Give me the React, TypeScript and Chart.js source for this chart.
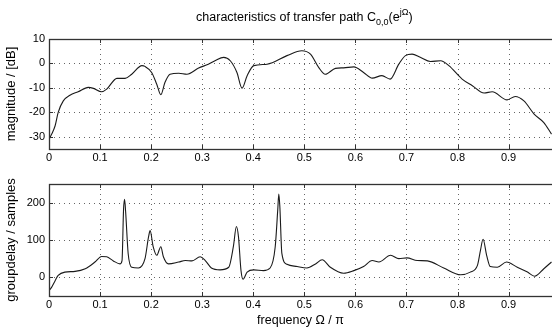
import React, { useEffect, useRef } from 'react';
import { Chart, registerables } from 'chart.js';

Chart.register(...registerables);

// ---------- data ----------
const magFreq = [
  0, 0.005, 0.012, 0.018, 0.028, 0.041, 0.057, 0.077, 0.087, 0.103, 0.113, 0.133, 0.149, 0.162,
  0.182, 0.188, 0.201, 0.211, 0.219, 0.227, 0.237, 0.254, 0.27, 0.293, 0.312, 0.325, 0.342, 0.355,
  0.368, 0.378, 0.388, 0.401, 0.427, 0.466, 0.495, 0.512, 0.528, 0.541, 0.561, 0.577, 0.597, 0.616,
  0.633, 0.652, 0.668, 0.685, 0.698, 0.711, 0.727, 0.747, 0.767, 0.783, 0.809, 0.829, 0.852, 0.868,
  0.897, 0.913, 0.93, 0.95, 0.969, 0.984,
];
const magDb = [
  -31, -29, -25.5, -20, -15.3, -13, -11.6, -9.8, -10.2, -11.6, -10.5, -6.1, -6.1, -4.4,
  -0.9, -1.2, -3.7, -8.5, -12.8, -7.8, -4.4, -4, -4.4, -1.9, -0.3, 1.1, 2.5, 1.1,
  -3.7, -10.1, -5, -0.9, -0.3, 3.2, 5.2, 3.8, -1.6, -4.4, -2, -1.8, -1.4, -3.7,
  -6, -5, -6.4, -0.3, 3.2, 3.8, 2.5, 0.8, 1.1, -0.9, -6.4, -9.1, -12.1, -11.6,
  -14.9, -13.5, -15.3, -20.7, -24.2, -28.9,
];

const gdFreq = [
  0, 0.005, 0.012, 0.018, 0.031, 0.051, 0.071, 0.09, 0.103, 0.113, 0.126, 0.139, 0.143, 0.146,
  0.148, 0.15, 0.155, 0.162, 0.175, 0.188, 0.195, 0.198, 0.204, 0.211, 0.219, 0.224, 0.234, 0.254,
  0.267, 0.28, 0.296, 0.306, 0.318, 0.335, 0.352, 0.361, 0.367, 0.371, 0.376, 0.38, 0.388, 0.401,
  0.42, 0.433, 0.443, 0.448, 0.45, 0.452, 0.456, 0.466, 0.486, 0.505, 0.522, 0.535, 0.551, 0.577,
  0.597, 0.616, 0.633, 0.646, 0.669, 0.685, 0.701, 0.721, 0.741, 0.773, 0.806, 0.825, 0.839, 0.845,
  0.85, 0.857, 0.864, 0.878, 0.896, 0.917, 0.937, 0.951, 0.969, 0.984,
];
const gdSamples = [
  -36, -27, -9, 5, 14, 16, 23, 41, 56, 55, 44, 36, 45, 182,
  209, 177, 64, 27, 25, 50, 109, 125, 82, 59, 82, 55, 36, 41,
  45, 44, 55, 45, 25, 20, 27, 82, 136, 109, 18, -5, 14, 20,
  18, 25, 82, 182, 223, 191, 64, 35, 29, 25, 36, 47, 27, 11,
  18, 29, 45, 41, 59, 50, 52, 45, 44, 25, 7, 14, 32, 73,
  102, 59, 29, 27, 41, 27, 14, 3, 23, 41,
];

const freqTicks = [0, 0.1, 0.2, 0.3, 0.4, 0.5, 0.6, 0.7, 0.8, 0.9];
const magTicks = [-30, -20, -10, 0, 10];
const gdTicks = [0, 100, 200];

const freqMax = 0.985;
const magRange = [-35, 10];
const gdRange = [-50, 250];

const FONT = '"Liberation Sans", Arial, Helvetica, sans-serif';

// ---------- plugins ----------
const matlabAxes = {
  id: 'matlabAxes',
  beforeDatasetsDraw(chart: any) {
    const { ctx, chartArea: a } = chart;
    const xs = chart.scales.x;
    const ys = chart.scales.y;
    ctx.save();
    ctx.strokeStyle = '#666';
    ctx.lineWidth = 1;
    ctx.setLineDash([1, 4]);
    xs.ticks.forEach((t: any) => {
      const px = Math.round(xs.getPixelForValue(t.value)) + 0.5;
      if (px <= a.left + 1 || px >= a.right - 1) return;
      ctx.beginPath();
      ctx.moveTo(px, a.top);
      ctx.lineTo(px, a.bottom);
      ctx.stroke();
    });
    ys.ticks.forEach((t: any) => {
      const py = Math.round(ys.getPixelForValue(t.value)) + 0.5;
      if (py <= a.top + 1 || py >= a.bottom - 1) return;
      ctx.beginPath();
      ctx.moveTo(a.left, py);
      ctx.lineTo(a.right, py);
      ctx.stroke();
    });
    ctx.restore();
  },
  afterDraw(chart: any) {
    const { ctx, chartArea: a } = chart;
    const xs = chart.scales.x;
    const ys = chart.scales.y;
    ctx.save();
    ctx.setLineDash([]);
    ctx.strokeStyle = '#333';
    ctx.lineWidth = 1.3;
    ctx.strokeRect(a.left + 0.5, a.top + 0.5, a.right - a.left + 10, a.bottom - a.top);
    ctx.lineWidth = 1;
    const len = 4;
    xs.ticks.forEach((t: any) => {
      const px = Math.round(xs.getPixelForValue(t.value)) + 0.5;
      ctx.beginPath();
      ctx.moveTo(px, a.bottom);
      ctx.lineTo(px, a.bottom - len);
      ctx.moveTo(px, a.top);
      ctx.lineTo(px, a.top + len);
      ctx.stroke();
    });
    ys.ticks.forEach((t: any) => {
      const py = Math.round(ys.getPixelForValue(t.value)) + 0.5;
      ctx.beginPath();
      ctx.moveTo(a.left, py);
      ctx.lineTo(a.left + len, py);
      ctx.stroke();
    });
    ctx.restore();
  },
};

const titlePlugin = {
  id: 'mainTitle',
  afterDraw(chart: any) {
    const opts = chart.options.plugins.mainTitle;
    if (!opts || !opts.show) return;
    const { ctx } = chart;
    const xs = chart.scales.x;
    const big = `12.5px ${FONT}`;
    const small = `9px ${FONT}`;
    const parts: [string, string, number][] = [
      ['characteristics of transfer path C', big, 0],
      ['0,0', small, 4],
      ['(e', big, 0],
      ['jΩ', small, -6],
      [')', big, 0],
    ];
    ctx.save();
    ctx.fillStyle = '#000';
    ctx.textBaseline = 'alphabetic';
    ctx.textAlign = 'left';
    let total = 0;
    const widths = parts.map(([t, f]) => {
      ctx.font = f;
      const w = ctx.measureText(t).width;
      total += w;
      return w;
    });
    let x = xs.getPixelForValue(0.5) - total / 2;
    const baseY = 21;
    parts.forEach(([t, f, dy], i) => {
      ctx.font = f;
      ctx.fillText(t, x, baseY + dy);
      x += widths[i];
    });
    ctx.restore();
  },
};

const tickFont = { family: FONT, size: 11 };
const fmt = (v: any) => String(+(+v).toFixed(2));

function makeConfig(
  freq: number[], vals: number[], yTicks: number[], yRange: number[],
  yTitle: string, topPad: number, xHeight: number, withXTitle: boolean, withTitle: boolean,
) {
  return {
    type: 'line' as const,
    data: {
      datasets: [{
        data: freq.map((f, i) => ({ x: f, y: vals[i] })),
        borderColor: '#1a1a1a',
        borderWidth: 1.1,
        pointRadius: 0,
        fill: false,
        cubicInterpolationMode: 'monotone' as const,
      }],
    },
    options: {
      responsive: false,
      animation: false as const,
      devicePixelRatio: 1,
      events: [],
      layout: { padding: { top: topPad, left: 0, right: 0, bottom: 0 } },
      plugins: {
        legend: { display: false },
        tooltip: { enabled: false },
        mainTitle: { show: withTitle },
      },
      scales: {
        x: {
          type: 'linear' as const,
          min: 0,
          max: freqMax,
          afterBuildTicks: (s: any) => { s.ticks = freqTicks.map((v) => ({ value: v })); },
          afterFit: (s: any) => { s.height = xHeight; },
          grid: { display: false, drawTicks: false },
          border: { display: false },
          ticks: { padding: 2, font: tickFont, color: '#000', maxRotation: 0, autoSkip: false, callback: fmt },
          title: {
            display: withXTitle,
            text: 'frequency Ω / π',
            color: '#000',
            font: { family: FONT, size: 12.5 },
            padding: { top: 0, bottom: 0 },
          },
        },
        y: {
          type: 'linear' as const,
          min: yRange[0],
          max: yRange[1],
          afterBuildTicks: (s: any) => { s.ticks = yTicks.map((v) => ({ value: v })); },
          afterFit: (s: any) => { s.width = 49; },
          grid: { display: false, drawTicks: false },
          border: { display: false },
          ticks: { padding: 4, font: tickFont, color: '#000', callback: fmt },
          title: {
            display: true,
            text: yTitle,
            color: '#000',
            font: { family: FONT, size: 13 },
            padding: { top: 4, bottom: 0 },
          },
        },
      },
    },
    plugins: [matlabAxes, titlePlugin],
  };
}

export default function App() {
  const topRef = useRef<HTMLCanvasElement>(null);
  const botRef = useRef<HTMLCanvasElement>(null);

  useEffect(() => {
    const c1 = new Chart(topRef.current!, makeConfig(
      magFreq, magDb, magTicks, magRange, 'magnitude / [dB]', 39, 15, false, true,
    ) as any);
    const c2 = new Chart(botRef.current!, makeConfig(
      gdFreq, gdSamples, gdTicks, gdRange, 'groupdelay / samples', 20, 32, true, false,
    ) as any);
    return () => { c1.destroy(); c2.destroy(); };
  }, []);

  return (
    <div style={{ position: 'absolute', left: 0, top: 0, width: 552, height: 328, background: '#fff', overflow: 'hidden' }}>
      <canvas ref={topRef} width={552} height={164} style={{ position: 'absolute', left: 0, top: 0, display: 'block' }} />
      <canvas ref={botRef} width={552} height={164} style={{ position: 'absolute', left: 0, top: 164, display: 'block' }} />
    </div>
  );
}
